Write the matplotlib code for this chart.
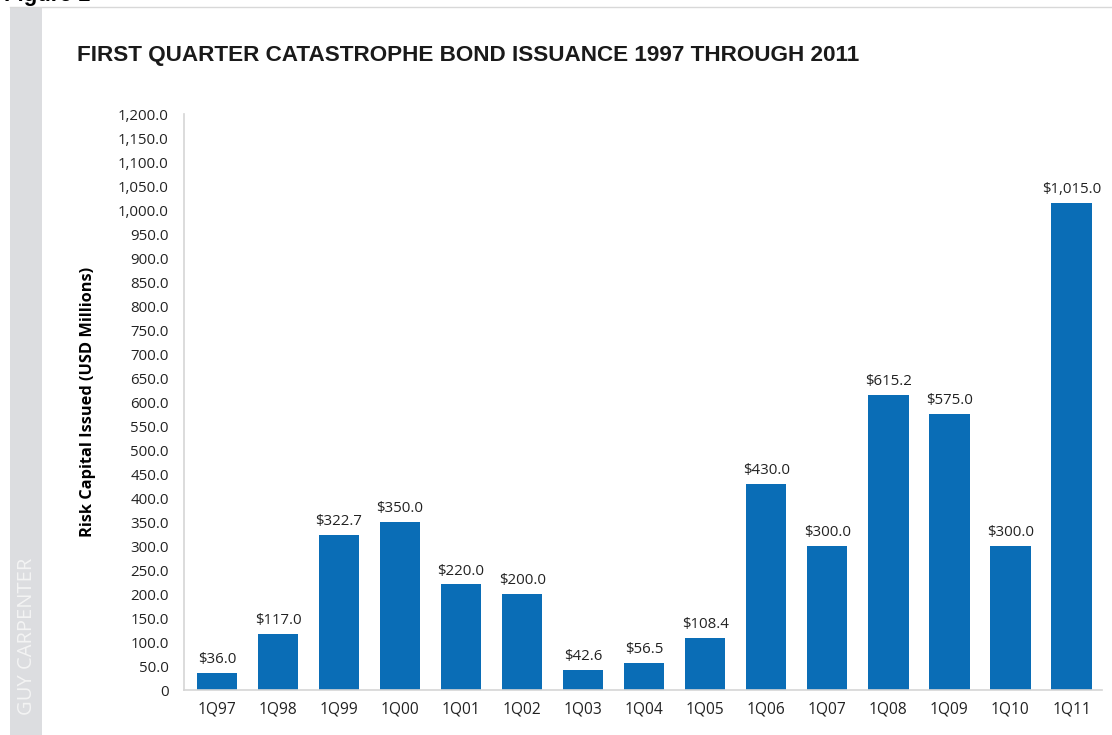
import matplotlib.pyplot as plt
from matplotlib.patches import Rectangle
from matplotlib.lines import Line2D

quarters = ['1Q97', '1Q98', '1Q99', '1Q00', '1Q01', '1Q02', '1Q03', '1Q04',
            '1Q05', '1Q06', '1Q07', '1Q08', '1Q09', '1Q10', '1Q11']
issued = [36.0, 117.0, 322.7, 350.0, 220.0, 200.0, 42.6, 56.5,
          108.4, 430.0, 300.0, 615.2, 575.0, 300.0, 1015.0]
yticks = list(range(0, 1201, 50))

W, H = 1112, 735
fig = plt.figure(figsize=(W / 100, H / 100), dpi=100)

# grey side strip and top rule
fig.patches.append(Rectangle((10 / W, 0), 32 / W, 1 - 8 / H, transform=fig.transFigure,
                             facecolor='#dcdde0', edgecolor='none'))
fig.lines.append(Line2D([10 / W, 1], [1 - 7 / H, 1 - 7 / H], transform=fig.transFigure,
                        color='#d8d8d8', lw=1))
fig.text(27 / W, 1 - 636 / H, 'GUY CARPENTER', rotation=90, ha='center', va='center',
         color='#f4f4f4', fontsize=14.5, family='Open Sans')
fig.text(4 / W, 1 + 5 / H, 'Figure 1', ha='left', va='center', fontsize=16,
         fontweight='bold', family='Liberation Sans', color='black')

fig.text(77 / W, 1 - 55 / H, 'FIRST QUARTER CATASTROPHE BOND ISSUANCE 1997 THROUGH 2011',
         ha='left', va='center', fontsize=16.2, fontweight='bold',
         family='Liberation Sans', color='#1a1a1a')

ax = fig.add_axes([184 / W, 1 - 690 / H, (1102 - 184) / W, (690 - 114) / H])
x = range(len(quarters))
bars = ax.bar(x, issued, width=0.66, color='#0a6db6')
for i, v in enumerate(issued):
    ax.text(i, v + 12, '${:,.1f}'.format(v), ha='center', va='bottom',
            fontsize=10.8, family='Open Sans', color='#222222')

ax.set_xlim(-0.54, 14.5)
ax.set_ylim(0, 1200)
ax.set_yticks(yticks)
ax.set_yticklabels(['0'] + ['{:,.1f}'.format(t) for t in yticks[1:]],
                   fontsize=10.8, family='Open Sans', color='#222222')
ax.set_xticks(list(x))
ax.set_xticklabels(quarters, fontsize=11.2, family='Open Sans', color='#222222')
ax.tick_params(length=0, pad=8)
ax.tick_params(axis='y', pad=11)
for s in ['top', 'right']:
    ax.spines[s].set_visible(False)
for s in ['left', 'bottom']:
    ax.spines[s].set_color('#d5d5d5')
    ax.spines[s].set_linewidth(1.2)
ax.set_ylabel('Risk Capital Issued (USD Millions)', fontsize=11.8, fontweight='bold',
              family='Open Sans')
ax.yaxis.set_label_coords(-88 / (1102 - 184), 0.5)

fig.savefig('out.png', dpi=100)
